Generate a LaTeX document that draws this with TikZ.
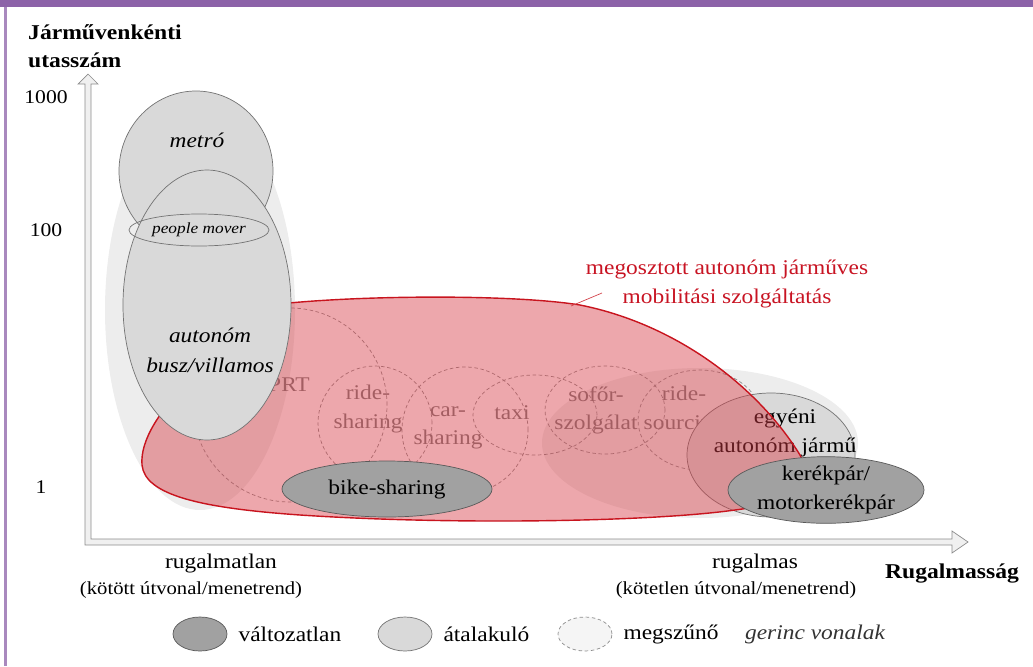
\documentclass[tikz,border=0pt]{standalone}
\usepackage{fontspec}
\setmainfont{Liberation Serif}[FakeStretch=1.12]
\usetikzlibrary{
    shapes.geometric,
    positioning
}
\definecolor{framepurple}{RGB}{140,98,168}
\definecolor{blobred}{RGB}{215,60,70}
\definecolor{blobedge}{RGB}{200,20,30}
\definecolor{textred}{RGB}{200,20,35}
\tikzset{
  wh/.style 2 args = {
      minimum width=#1*0.02cm,
      minimum height=#2*0.02cm
  },
  valtozatlan/.style = {
      ellipse,
      draw=black!65,
      fill=black!37,
      inner sep=0pt
  },
  atalakulo/.style = {
      ellipse,
      draw=black!55,
      fill=black!15,
      inner sep=0pt
  },
  megszuno/.style = {
      ellipse,
      draw=black!45,
      thin,
      dash pattern=on 2pt off 1.5pt,
      inner sep=0pt
  },
  halo/.style = {
      ellipse,
      fill=black!7,
      inner sep=0pt
  },
  txt/.style = {
      align=center,
      font=\fontsize{11.9}{16}\selectfont
  },
  faded/.style = {
      txt,
      text=black!52
  },
  smalltxt/.style = {
      align=center,
      font=\fontsize{10.5}{13}\selectfont
  },
  tick/.style = {
      font=\fontsize{11}{13}\selectfont
  },
  redblob/.style = {
      draw=blobedge,
      thick,
      fill=blobred,
      fill opacity=0.45
  },
  axis/.style = {
      draw=black!45,
      fill=black!6,
      thin
  }
}

\begin{document}
\begin{tikzpicture}[x=0.02cm, y=-0.02cm]
    \path[use as bounding box] (0,0) rectangle (1033,666);
    % frame
    \fill[framepurple] (0,0) rectangle (1033,7);
    \fill[framepurple!75] (4,7) rectangle (7,666);
    % halos
    \node[halo, wh={190}{400}] (lefthalo) at (200,310) {};
    \node[halo, wh={316}{150}] (righthalo) at (700,443) {};
    % vanishing services
    \node[megszuno, wh={194}{194}] (prt) at (290,405) {};
    \node[faded] (prttext) at (289,385) {PRT};
    \node[megszuno, wh={114}{114}] (ride) at (375,423) {};
    \node[faded] (ridetext) at (368,409) {ride-\\sharing};
    \node[megszuno, wh={126}{126}] (car) at (465,430) {};
    \node[faded] (cartext) at (448,428) {car-\\sharing};
    \node[megszuno, wh={124}{80}] (taxi) at (535,415) {};
    \node[faded] (taxitext) at (512,413) {taxi};
    \node[megszuno, wh={120}{88}] (sofor) at (605,410) {};
    \node[faded] (sofortext) at (596,410) {sofőr-\\szolgálat};
    \node[megszuno, wh={124}{100}] (sourcing) at (700,420) {};
    \node[faded] (sourcingtext) at (684,410) {ride-\\sourcing};
    % own vehicle
    \node[atalakulo, wh={168}{124}] (egyeni) at (771,455) {};
    \node[txt] (egyenitext) at (785,433) {egyéni\\autonóm jármű};
    % shared autonomous mobility
    \draw[redblob] (240,310) .. controls (300,296) and (500,292) .. (580,305)
        .. controls (680,325) and (760,390) .. (800,455)
        .. controls (815,480) and (780,505) .. (735,510)
        .. controls (650,522) and (450,525) .. (300,515)
        .. controls (200,508) and (145,495) .. (142,465)
        .. controls (140,440) and (160,410) .. (190,380)
        .. controls (210,350) and (220,320) .. (240,310);
    \node[txt, text=textred] (sharedlabel) at (727,284) {megosztott autonóm járműves\\mobilitási szolgáltatás};
    \coordinate (labelfoot) at (602,293);
    \coordinate (blobtop) at (571,306);
    \draw[blobedge!80, thin] (labelfoot) -- (blobtop);
    % mass transit
    \node[atalakulo, wh={154}{160}] (metro) at (196,171) {};
    \node[txt, font=\fontsize{11.9}{16}\selectfont\itshape] (metrotext) at (197,140) {metró};
    \node[atalakulo, wh={168}{270}] (bus) at (207,305) {};
    \node[txt, font=\fontsize{11.9}{17}\selectfont\itshape] (bustext) at (210,350) {autonóm\\busz/villamos};
    \node[atalakulo, fill=none, wh={140}{32}, font=\fontsize{8.8}{10}\selectfont\itshape] (mover) at (199,230) {people mover};
    % unchanged
    \node[valtozatlan, wh={210}{56}, txt] (bike) at (387,489) {bike-sharing};
    \node[valtozatlan, wh={196}{54}, font=\fontsize{11.9}{16}\selectfont, align=center] (kerekpar) at (826,490) {kerékpár/\\motorkerékpár};
    % axes
    \draw[axis] (85,545) -- (85,84) -- (78,84) -- (88,74) -- (98,84) -- (91,84)
        -- (91,539) -- (952,539) -- (952,531) -- (968,542) -- (952,553)
        -- (952,545) -- cycle;
    \node[font=\fontsize{12}{16}\selectfont\bfseries, align=left, anchor=north west] (ytitle) at (22,18) {Járművenkénti\\utasszám};
    \node[tick] (t1000) at (46,97) {1000};
    \node[tick] (t100) at (46,230) {100};
    \node[tick] (t1) at (41,487) {1};
    \node[txt] (rigid) at (221,563) {rugalmatlan};
    \node[smalltxt] (rigidsub) at (191,590) {(kötött útvonal/menetrend)};
    \node[txt] (flex) at (755,563) {rugalmas};
    \node[smalltxt] (flexsub) at (736,590) {(kötetlen útvonal/menetrend)};
    \node[txt, font=\fontsize{12}{16}\selectfont\bfseries] (xtitle) at (952,573) {Rugalmasság};
    % legend
    \node[valtozatlan, wh={54}{34}] (legunchanged) at (200,634) {};
    \node[txt, right=0.1cm of legunchanged] (legunchangedtext) {változatlan};
    \node[atalakulo, wh={54}{34}] (legchanging) at (405,634) {};
    \node[txt, right=0.1cm of legchanging] (legchangingtext) {átalakuló};
    \node[megszuno, fill=black!4, wh={54}{34}] (legceasing) at (585,634) {};
    \node[txt, right=0.1cm of legceasing] (legceasingtext) {megszűnő};
    \node[txt, font=\fontsize{11.9}{16}\selectfont\itshape, text=black!80] (legspine) at (815,634) {gerinc vonalak};
\end{tikzpicture}
\end{document}
